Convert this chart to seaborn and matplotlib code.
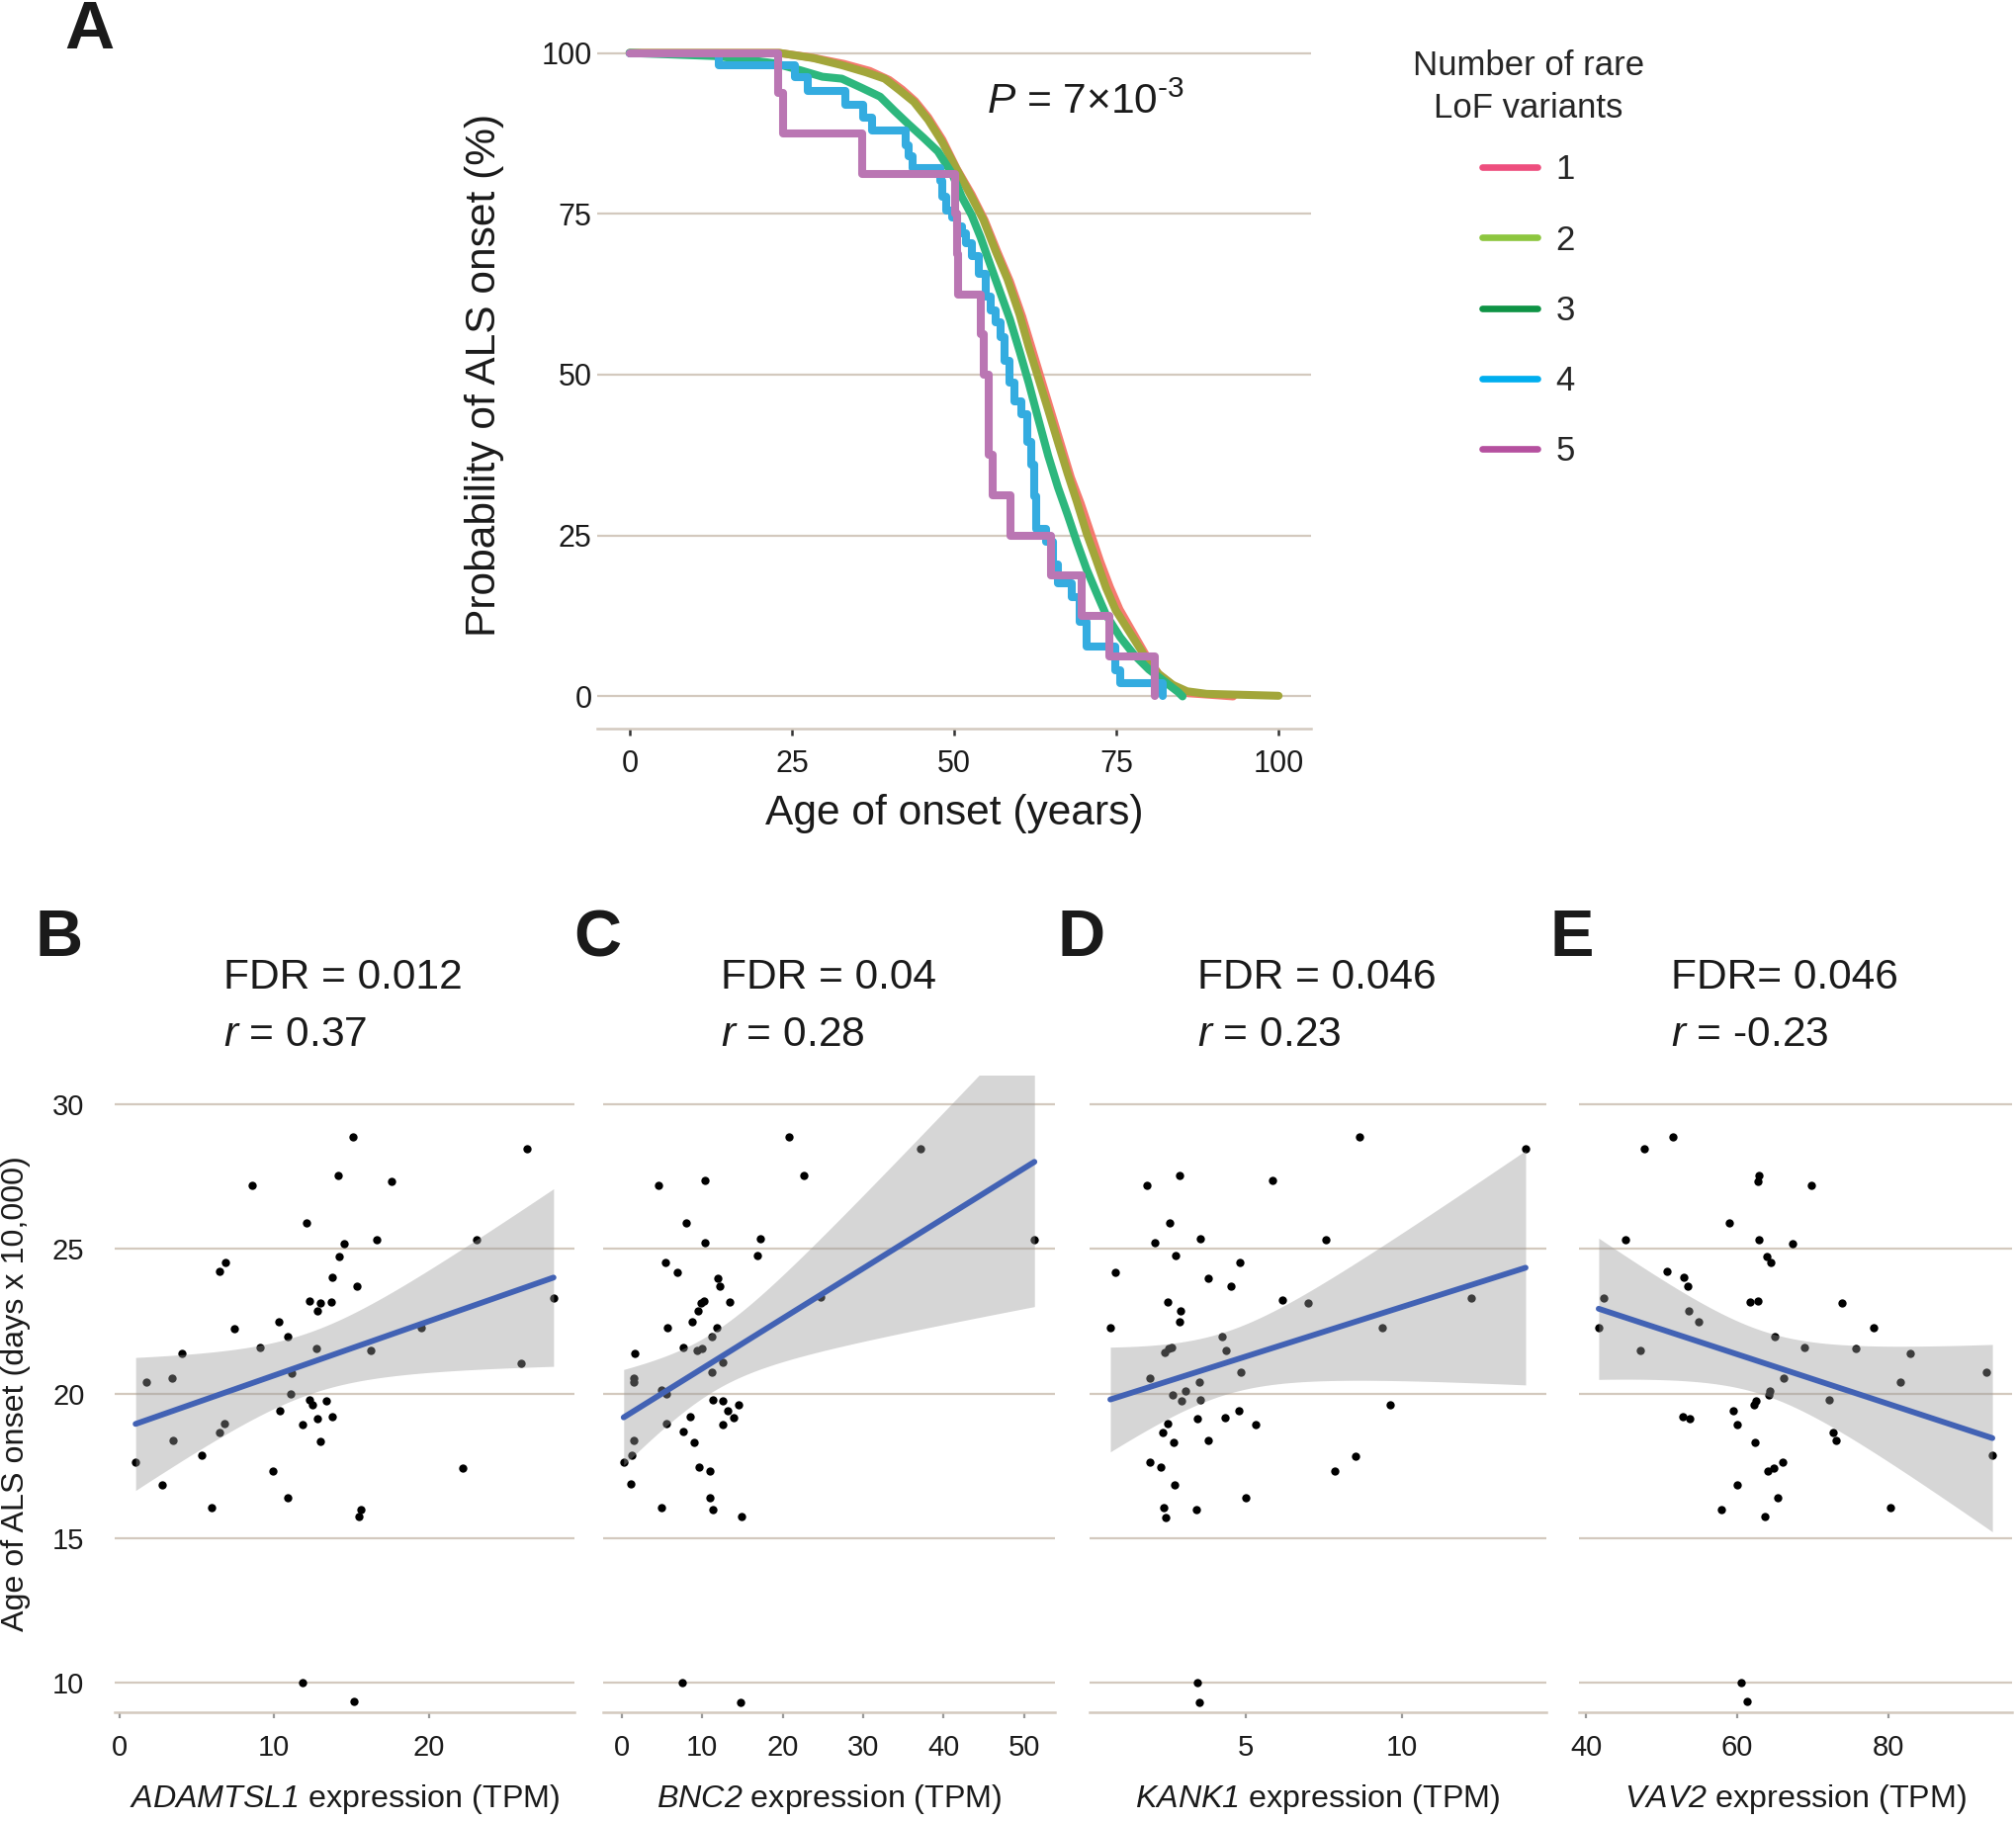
import numpy as np
import matplotlib
matplotlib.use("Agg")
import matplotlib.pyplot as plt
import seaborn as sns
from matplotlib.lines import Line2D

# ---------------- Data: panel A (Kaplan-Meier, % without onset) ----------------
km1_age = [0, 23, 28, 33, 37, 40, 42, 44, 46, 48.2, 50.4, 52.7, 54.7, 56.7, 58.6, 60.5, 62, 63.5, 65,
           66.5, 68, 69.5, 71, 72.5, 74, 75.5, 77.5, 79.5, 81.5, 84, 86, 93]
km1_pct = [100, 100, 99.3, 98.3, 97.2, 95.8, 94.3, 92.5, 90, 86.5, 82, 78, 74, 69, 64.5, 59, 54, 49, 44,
           39, 34, 30, 25.5, 21, 17, 13.5, 10, 6.5, 3.5, 1.5, 0.5, 0]
km2_age = [0, 23.1, 28.3, 32.7, 36.4, 39.3, 41.6, 43.8, 46.0, 48.2, 50.4, 52.7, 54.5, 56.4, 58.2, 60.1,
           61.5, 63.0, 64.5, 66.0, 67.5, 68.9, 70.4, 71.9, 73.4, 74.9, 77.1, 79.3, 81.5, 83.7, 85.9, 88.9, 100]
km2_pct = [100, 100, 99.2, 98.1, 97.0, 96.0, 94.2, 92.4, 89.6, 86.1, 81.9, 77.6, 74.1, 69.2, 64.9, 59.3,
           54.3, 49.4, 44.5, 39.5, 34.6, 30.3, 25.4, 21.2, 16.9, 13.4, 9.9, 6.4, 3.5, 1.8, 0.8, 0.4, 0.1]
km3_age = [0, 13.5, 22.3, 26.0, 29.7, 32.7, 35.7, 38.6, 40.8, 43.0, 45.3, 47.5, 49.7, 51.2, 52.7, 54.1,
           55.6, 57.1, 58.6, 60.1, 61.5, 63.0, 64.5, 66.0, 67.5, 68.9, 70.4, 71.9, 73.4, 75.6, 77.8, 80.0,
           82.2, 84.5, 85.2]
km3_pct = [100, 99.5, 98.4, 97.4, 96.3, 96.0, 94.6, 93.2, 91.0, 88.9, 86.8, 84.7, 81.2, 77.6, 74.8, 71.3,
           67.0, 62.8, 58.6, 53.6, 48.7, 43.0, 37.4, 32.5, 28.2, 24.0, 19.8, 16.2, 12.7, 9.2, 6.4, 4.2,
           2.5, 0.7, 0]
km4_age = [0, 13.7, 25.4, 27.5, 33.3, 36.0, 37.4, 42.5, 43.0, 43.6, 47.9, 48.2, 48.8, 49.7, 50.5, 51.2,
           51.9, 52.7, 53.8, 54.9, 55.6, 56.4, 57.1, 57.8, 58.6, 59.3, 60.4, 61.2, 61.9, 62.3, 62.7, 64.1,
           65.2, 66.0, 68.2, 69.3, 70.4, 74.8, 75.6, 82.2]
km4_pct = [100, 98.1, 96.3, 94.1, 92.0, 90.0, 87.9, 85.7, 84.0, 82.1, 80.1, 77.6, 75.5, 74.5, 73.0, 72.0,
           70.5, 68.5, 65.6, 62.1, 60.0, 58.2, 55.8, 52.2, 48.7, 45.9, 43.8, 39.5, 36.0, 31.1, 26.1, 24.0,
           20.5, 17.6, 15.5, 11.6, 7.8, 4.0, 2.0, 0]
km5_age = [0, 22.9, 23.6, 35.9, 50.1, 50.4, 50.6, 54.1, 54.5, 55.3, 56.0, 58.7, 64.9, 69.6, 73.9, 80.9]
km5_pct = [100, 93.75, 87.5, 81.25, 75, 68.75, 62.5, 56.25, 50, 37.5, 31.25, 25, 18.75, 12.5, 6.25, 0]

group_labels = ["1", "2", "3", "4", "5"]
p_text = r"$\mathit{P}$ = 7×10$^{\text{-3}}$"

# ---------------- Data: panels B-E (expression vs onset) ----------------
adamtsl1_tpm = [1.03, 1.72, 3.36, 3.44, 4.02, 2.72, 5.28, 5.96, 6.43, 6.87, 6.45, 6.75, 7.41, 8.56, 9.06,
                9.91, 10.31, 10.38, 10.90, 10.90, 11.12, 11.09, 11.85, 11.83, 12.07, 12.25, 12.25, 12.49,
                12.74, 12.79, 12.76, 12.96, 12.98, 13.35, 13.69, 13.74, 13.77, 14.16, 14.23, 14.53, 15.12,
                15.14, 15.36, 15.46, 15.63, 16.22, 16.61, 17.62, 19.51, 22.21, 23.07, 25.96, 26.36, 28.07]
adamtsl1_onset = [17.62, 20.40, 20.53, 18.38, 21.39, 16.85, 17.85, 16.04, 24.21, 24.52, 18.66, 18.96,
                  22.25, 27.20, 21.59, 17.32, 22.48, 19.40, 21.97, 16.41, 20.71, 19.97, 18.92, 10.00,
                  25.91, 23.21, 19.78, 19.62, 21.56, 22.85, 19.14, 23.13, 18.33, 19.75, 23.16, 24.01,
                  19.19, 27.55, 24.75, 25.20, 28.87, 9.34, 23.71, 15.73, 15.98, 21.49, 25.33, 27.35,
                  22.28, 17.43, 25.31, 21.06, 28.46, 23.31]
bnc2_tpm = [0.25, 1.18, 1.31, 1.51, 1.51, 1.51, 1.63, 4.62, 4.98, 4.90, 5.39, 5.56, 5.51, 5.72, 6.86,
            7.64, 7.68, 7.56, 8.01, 8.46, 8.70, 8.95, 9.40, 9.48, 9.56, 9.89, 10.01, 10.17, 10.38, 10.33,
            10.99, 10.99, 11.15, 11.23, 11.27, 11.32, 11.85, 11.97, 12.21, 12.58, 12.58, 12.58, 13.15,
            13.40, 13.85, 14.54, 14.83, 14.95, 16.91, 17.20, 20.79, 22.63, 24.71, 37.17, 51.27]
bnc2_onset = [17.64, 16.88, 17.85, 18.38, 20.52, 20.41, 21.40, 27.20, 16.05, 20.12, 24.53, 19.98, 18.96,
              22.26, 24.20, 18.67, 21.60, 10.00, 25.92, 19.20, 22.49, 18.32, 21.50, 22.86, 17.44, 23.14,
              21.57, 23.21, 27.37, 25.21, 17.32, 16.41, 20.74, 21.98, 15.98, 19.79, 22.29, 24.00, 23.72,
              21.07, 18.93, 19.76, 19.40, 23.17, 19.15, 19.61, 9.32, 15.73, 24.76, 25.34, 28.89, 27.56,
              23.34, 28.48, 25.33]
kank1_tpm = [0.67, 0.84, 1.84, 1.93, 1.94, 2.09, 2.27, 2.34, 2.39, 2.43, 2.41, 2.49, 2.51, 2.54, 2.58,
             2.64, 2.65, 2.68, 2.72, 2.77, 2.87, 2.87, 2.92, 2.95, 3.08, 3.41, 3.45, 3.47, 3.52, 3.54,
             3.53, 3.56, 3.79, 3.79, 4.26, 4.34, 4.36, 4.54, 4.77, 4.82, 4.86, 4.99, 5.31, 5.85, 6.18,
             7.01, 7.56, 7.85, 8.53, 8.63, 9.36, 9.63, 12.23, 13.96]
kank1_onset = [22.26, 24.20, 27.20, 20.53, 17.61, 25.21, 17.45, 18.66, 16.04, 15.72, 21.41, 18.96, 23.17,
               21.56, 25.90, 21.58, 19.95, 18.31, 16.85, 24.76, 27.55, 22.47, 22.85, 19.75, 20.10, 15.97,
               10.00, 19.14, 20.40, 19.78, 9.32, 25.34, 24.00, 18.37, 21.97, 19.17, 21.48, 23.71, 19.40,
               24.53, 20.73, 16.40, 18.94, 27.36, 23.22, 23.13, 25.32, 17.33, 17.84, 28.87, 22.29, 19.62,
               23.32, 28.47]
vav2_tpm = [41.66, 42.27, 45.19, 47.19, 47.76, 50.68, 51.55, 52.85, 52.98, 53.51, 53.55, 53.73, 54.90,
            57.95, 58.95, 59.43, 60.00, 60.00, 60.48, 61.31, 61.70, 62.18, 62.35, 62.48, 62.70, 62.70,
            62.88, 62.92, 63.62, 63.97, 64.05, 64.18, 64.36, 64.40, 64.79, 65.05, 65.40, 65.97, 66.10,
            67.32, 68.89, 69.85, 72.24, 72.68, 73.07, 73.90, 75.69, 78.04, 80.31, 81.57, 82.96, 92.99, 93.81]
vav2_onset = [22.27, 23.31, 25.31, 21.49, 28.46, 24.21, 28.87, 19.19, 24.01, 23.71, 22.85, 19.14, 22.48,
              15.99, 25.91, 19.40, 18.94, 16.85, 10.00, 9.34, 23.16, 19.60, 18.31, 19.75, 27.35, 23.21,
              27.53, 25.33, 15.73, 24.75, 17.32, 19.95, 20.08, 24.52, 17.43, 21.97, 16.41, 17.62, 20.53,
              25.20, 21.59, 27.19, 19.78, 18.66, 18.38, 23.13, 21.56, 22.28, 16.04, 20.40, 21.39, 20.73, 17.85]

panel_letters = ["B", "C", "D", "E"]
gene_names = ["ADAMTSL1", "BNC2", "KANK1", "VAV2"]
fdr_texts = ["FDR = 0.012", "FDR = 0.04", "FDR = 0.046", "FDR= 0.046"]
r_texts = ["0.37", "0.28", "0.23", "-0.23"]
x_ticks = [[0, 10, 20], [0, 10, 20, 30, 40, 50], [5, 10], [40, 60, 80]]
y_ticks = [10, 15, 20, 25, 30]

# ---------------- Style ----------------
sns.set_theme(style="white")
plt.rcParams["font.family"] = ["Liberation Sans", "DejaVu Sans"]
plt.rcParams["mathtext.fontset"] = "custom"
plt.rcParams["mathtext.rm"] = "Liberation Sans"
plt.rcParams["mathtext.it"] = "Liberation Sans:italic"
plt.rcParams["mathtext.sf"] = "Liberation Sans:italic"
plt.rcParams["mathtext.bf"] = "Liberation Sans:bold"

GRID = "#D3C9BE"
TXT = "#1a1a1a"
W, H = 2040, 1842
fig = plt.figure(figsize=(W / 200, H / 200), dpi=200)


def frac_box(x0, y0, x1, y1):
    return [x0 / W, 1 - y1 / H, (x1 - x0) / W, (y1 - y0) / H]


# ---------------- Panel A ----------------
axA = fig.add_axes(frac_box(604, 21, 1326, 737))
plot_colors = ["#F57A70", "#A2A63A", "#2DB77D", "#34ACE0", "#BA76B3"]
legend_colors = ["#EE4E7E", "#8DC63F", "#0E9345", "#00AEEF", "#B5509F"]
km = [(km1_age, km1_pct), (km2_age, km2_pct), (km3_age, km3_pct), (km4_age, km4_pct), (km5_age, km5_pct)]
for i in [0, 2, 1, 3, 4]:
    a, p = km[i]
    kw = dict(drawstyle="steps-post") if i >= 3 else {}
    sns.lineplot(x=a, y=p, estimator=None, sort=False, color=plot_colors[i], lw=2.9, ax=axA,
                 zorder=3 + i, **kw)
axA.set_xlim(-5, 105)
axA.set_ylim(-5, 105)
axA.set_xticks([0, 25, 50, 75, 100])
axA.set_yticks([0, 25, 50, 75, 100])
axA.yaxis.grid(True, color=GRID, lw=0.8)
axA.xaxis.grid(False)
axA.set_axisbelow(True)
for s in ["top", "right", "left"]:
    axA.spines[s].set_visible(False)
axA.spines["bottom"].set_color(GRID)
axA.spines["bottom"].set_linewidth(0.9)
axA.tick_params(axis="x", length=2.4, width=0.9, color="#333333", pad=5, labelsize=11, labelcolor=TXT,
                bottom=True)
axA.tick_params(axis="y", length=0, pad=2, labelsize=11, labelcolor=TXT, left=True)
axA.set_xlabel("Age of onset (years)", fontsize=15.3, color=TXT)
axA.set_ylabel("Probability of ALS onset (%)", fontsize=15.3, color=TXT)
axA.xaxis.set_label_coords(0.5, -0.12)
axA.xaxis.label.set_va("center")
axA.yaxis.set_label_coords(-0.158, 0.5)
axA.yaxis.label.set_va("center")
fig.text(998 / W, 1 - 104 / H, p_text, fontsize=15.3, color=TXT, va="center", ha="left")
fig.text(90 / W, 1 - 31 / H, "A", fontsize=25, fontweight="bold", color=TXT, ha="center", va="center")

handles = [Line2D([], [], color=c, lw=2.4) for c in legend_colors]
leg = fig.legend(handles, group_labels, title="Number of rare\nLoF variants", loc="upper center",
                 bbox_to_anchor=(1546 / W, 1 - 33 / H), frameon=False, fontsize=12.5, title_fontsize=12.5,
                 handlelength=1.6, handletextpad=0.55, labelspacing=1.1, borderpad=0)
leg.get_title().set_multialignment("center")
leg.get_title().set_linespacing(1.38)
leg._legend_box.sep = 10.5

# ---------------- Panels B-E ----------------
xs = [adamtsl1_tpm, bnc2_tpm, kank1_tpm, vav2_tpm]
ys = [adamtsl1_onset, bnc2_onset, kank1_onset, vav2_onset]
boxes = [(116, 581), (610, 1067), (1102, 1564), (1597, 2035)]
letter_x = [60, 604, 1094, 1590]
title_x = [226, 729, 1211, 1690]

for k in range(4):
    x = np.asarray(xs[k], float)
    y = np.asarray(ys[k], float)
    x0, x1 = boxes[k]
    ax = fig.add_axes(frac_box(x0, 1088, x1, 1732))
    sns.scatterplot(x=x, y=y, color="black", s=9, linewidth=0, ax=ax, zorder=2)
    # linear fit with 95% confidence band
    n = len(x)
    xm, ym = x.mean(), y.mean()
    sxx = np.sum((x - xm) ** 2)
    b = np.sum((x - xm) * (y - ym)) / sxx
    a = ym - b * xm
    s_res = np.sqrt(np.sum((y - (a + b * x)) ** 2) / (n - 2))
    grid = np.linspace(x.min(), x.max(), 200)
    fit = a + b * grid
    se = s_res * np.sqrt(1 / n + (grid - xm) ** 2 / sxx)
    ax.fill_between(grid, fit - 2.006 * se, fit + 2.006 * se, color="#999999", alpha=0.4, lw=0, zorder=3)
    sns.regplot(x=x, y=y, scatter=False, ci=None, truncate=True, ax=ax,
                line_kws=dict(color="#4262B4", lw=2.1, zorder=4))
    rng = x.max() - x.min()
    ax.set_xlim(x.min() - 0.05 * rng, x.max() + 0.05 * rng)
    ax.set_ylim(8.97, 31.0)
    ax.set_xticks(x_ticks[k])
    ax.set_yticks(y_ticks)
    ax.yaxis.grid(True, color=GRID, lw=0.8)
    ax.xaxis.grid(False)
    ax.set_axisbelow(True)
    for s in ["top", "right", "left"]:
        ax.spines[s].set_visible(False)
    ax.spines["bottom"].set_color(GRID)
    ax.spines["bottom"].set_linewidth(0.9)
    ax.tick_params(axis="x", length=2.0, width=0.8, color="#999999", pad=6, labelsize=10.5,
                   labelcolor=TXT, bottom=True)
    if k == 0:
        ax.tick_params(axis="y", length=0, pad=11, labelsize=10.5, labelcolor=TXT)
        ax.set_ylabel("Age of ALS onset (days x 10,000)", fontsize=11.6, color=TXT)
        ax.yaxis.set_label_coords(-0.2155, 0.5)
        ax.yaxis.label.set_va("center")
    else:
        ax.tick_params(axis="y", length=0, labelleft=False)
        ax.set_ylabel("")
    ax.set_xlabel(r"$\mathsf{" + gene_names[k] + r"}$ expression (TPM)", fontsize=11.6, color=TXT)
    ax.xaxis.set_label_coords(0.5, -0.136)
    ax.xaxis.label.set_va("center")
    fig.text(letter_x[k] / W, 1 - 950 / H, panel_letters[k], fontsize=24, fontweight="bold", color=TXT,
             ha="center", va="center")
    fig.text(title_x[k] / W, 1 - 989 / H, fdr_texts[k], fontsize=15.3, color=TXT, ha="left", va="center")
    fig.text(title_x[k] / W, 1 - 1047 / H, r"$\mathit{r}$ = " + r_texts[k], fontsize=15.3, color=TXT,
             ha="left", va="center")

fig.savefig("out.png", dpi=200)
